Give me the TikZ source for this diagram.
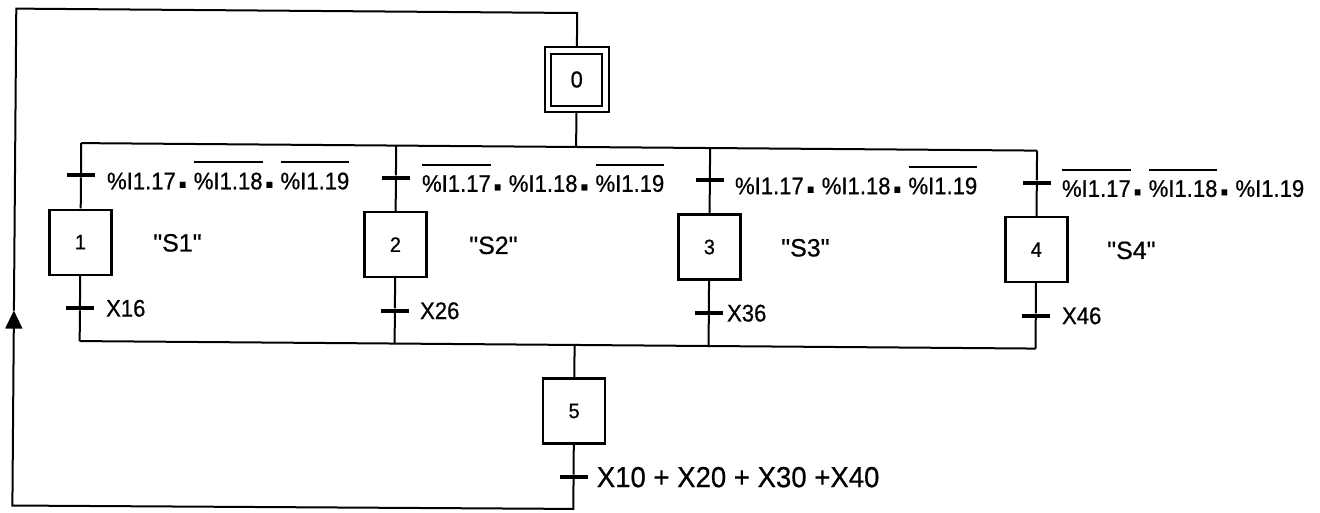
\documentclass[tikz,border=0pt]{standalone}
\usepackage{fontspec}
\setmainfont{Liberation Sans}
\newfontfamily\lab[FakeStretch=0.92,FakeBold=0.6]{Liberation Sans}
\newfontfamily\labw[FakeStretch=0.95,FakeBold=0.6]{Liberation Sans}
\newfontfamily\actf[FakeBold=0.6]{Liberation Sans}
\newfontfamily\numf[FakeStretch=0.95,FakeBold=0.7]{Liberation Sans}
\usetikzlibrary{arrows.meta}
\newcommand\ovr[1]{\sbox0{#1}\rlap{\rule[26pt]{\wd0}{2pt}}\usebox0}
\newcommand\andsep{\makebox[18pt][l]{\hspace{3pt}\raisebox{-3pt}{▪}}}
\begin{document}
\begin{tikzpicture}[x=1pt,y=-1pt,
  line/.style={line width=2pt},
  stepbox/.style={draw, line width=2.2pt, minimum width=62pt, minimum height=65pt, inner sep=0pt, font=\numf\fontsize{21}{21}\selectfont},
  initstep/.style={draw, double, double distance=4.5pt, line width=2pt, minimum width=57.5pt, minimum height=58.5pt, outer sep=4.25pt, inner sep=0pt, font=\numf\fontsize{23}{23}\selectfont},
  tick/.style={fill=black, inner sep=0pt, minimum width=28pt, minimum height=4pt},
  cond/.style={inner sep=0pt, anchor=base west, font=\lab\fontsize{24}{24}\selectfont},
  rcpt/.style={inner sep=0pt, anchor=west, font=\lab\fontsize{24}{24}\selectfont},
  act/.style={inner sep=0pt, font=\actf\fontsize{25}{25}\selectfont}
]
\useasboundingbox (0,0) rectangle (1320,512);
\begin{scope}[rotate around={-0.45:(577,300)}]
% initial step
\node[initstep] (s0) at (575,79.5) {0};
\coordinate (d0) at (575,147);
\coordinate (d1) at (80,147);
\coordinate (d2) at (395,147);
\coordinate (d3) at (709,147);
\coordinate (d4) at (1036,147);
% upper transitions
\node[tick] (t1) at (80,179) {};
\node[tick] (t2) at (395,179) {};
\node[tick] (t3) at (709,179) {};
\node[tick] (t4) at (1036,179) {};
% steps
\node[stepbox] (s1) at (80,246) {1};
\node[stepbox] (s2) at (395,246) {2};
\node[stepbox] (s3) at (709,246) {3};
\node[stepbox] (s4) at (1036,246) {4};
% lower transitions
\node[tick] (u1) at (80,312) {};
\node[tick] (u2) at (395,312) {};
\node[tick] (u3) at (709,312) {};
\node[tick] (u4) at (1036,312) {};
\coordinate (c1) at (80,345);
\coordinate (c2) at (395,345);
\coordinate (c3) at (709,345);
\coordinate (c4) at (1036,345);
\coordinate (c5) at (575,345);
\node[stepbox] (s5) at (575,411) {5};
\node[tick] (t5) at (575,477) {};
\coordinate (b5) at (575,509);
\coordinate (bl) at (14,510);
\coordinate (ar) at (14,315);
\coordinate (tl) at (14,13);
\coordinate (tr) at (575,13);
% connectors
\draw[line] (s0) -- (d0);
\draw[line] (d1) -- (d4);
\draw[line] (d1) -- (t1) -- (s1) -- (u1) -- (c1);
\draw[line] (d2) -- (t2) -- (s2) -- (u2) -- (c2);
\draw[line] (d3) -- (t3) -- (s3) -- (u3) -- (c3);
\draw[line] (d4) -- (t4) -- (s4) -- (u4) -- (c4);
\draw[line] (c1) -- (c4);
\draw[line,-{Triangle[length=18pt,width=17pt]}] (c5) -- (s5) -- (t5) -- (b5) -- (bl) -- (ar);
\draw[line] (ar) -- (tl) -- (tr) -- (s0);
% receptivities
\node[cond] (l1) at (106,193) {\%I1.17\andsep\ovr{\%I1.18}\andsep\ovr{\%I1.19}};
\node[cond] (l2) at (421,193) {\ovr{\%I1.17}\andsep\%I1.18\andsep\ovr{\%I1.19}};
\node[cond] (l3) at (734,193) {\%I1.17\andsep\%I1.18\andsep\ovr{\%I1.19}};
\node[cond] (l4) at (1061,193) {\ovr{\%I1.17}\andsep\ovr{\%I1.18}\andsep\%I1.19};
\node[rcpt] (x1) at (106,312) {X16};
\node[rcpt] (x2) at (420,312) {X26};
\node[rcpt] (x3) at (727,312) {X36};
\node[rcpt] (x4) at (1062,312) {X46};
\node[rcpt, font=\labw\fontsize{29}{29}\selectfont] (x5) at (598,477) {X10 + X20 + X30 +X40};
% actions
\node[act] (a1) at (177,246) {"S1"};
\node[act] (a2) at (493,246) {"S2"};
\node[act] (a3) at (805,246) {"S3"};
\node[act] (a4) at (1131,246) {"S4"};
\end{scope}
\end{tikzpicture}
\end{document}
